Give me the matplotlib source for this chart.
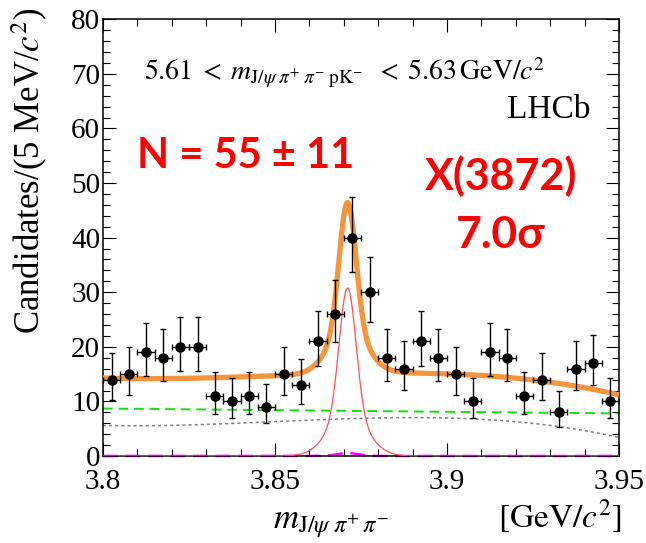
import numpy as np
import matplotlib
matplotlib.use("Agg")
import matplotlib.pyplot as plt
from matplotlib.ticker import MultipleLocator

# binned data: J/psi pi+ pi- mass, 5 MeV bins
bin_centers = [3.8025, 3.8075, 3.8125, 3.8175, 3.8225, 3.8275, 3.8325, 3.8375, 3.8425, 3.8475,
               3.8525, 3.8575, 3.8625, 3.8675, 3.8725, 3.8775, 3.8825, 3.8875, 3.8925, 3.8975,
               3.9025, 3.9075, 3.9125, 3.9175, 3.9225, 3.9275, 3.9325, 3.9375, 3.9425, 3.9475]
counts = [14, 15, 19, 18, 20, 20, 11, 10, 11, 9,
          15, 13, 21, 26, 40, 30, 18, 16, 21, 18,
          15, 10, 19, 18, 11, 14, 8, 16, 17, 10]
bin_half_width = 0.0025

# fit components (parameters)
sig_mean = 3.8711
sig_amp = 30.8
sig_sigma_core = 0.0024
sig_sigma_wide = 0.0055
sig_frac_wide = 0.25
peak2_amp = 0.55
peak2_sigma = 0.003
lin_bkg_ends = [8.7, 7.8]               # green dashed, at 3.80 and 3.95
smooth_bkg_coeffs = [6.9, 1.263, -2.4, -2.363]  # grey dotted, cubic in t=(m-3.875)/0.075

x_range = (3.8, 3.95)

plt.rcParams.update({
    "font.family": ["Liberation Serif", "DejaVu Serif"],
    "mathtext.fontset": "stix",
    "axes.linewidth": 1.1,
})

fig = plt.figure(figsize=(6.46, 5.43), dpi=100)
ax = fig.add_axes([0.1594, 0.1602, 0.7988, 0.8043])

m = np.linspace(x_range[0], x_range[1], 800)
t = (m - 3.875) / 0.075
signal = sig_amp * ((1 - sig_frac_wide) * np.exp(-0.5 * ((m - sig_mean) / sig_sigma_core) ** 2)
                    + sig_frac_wide * np.exp(-0.5 * ((m - sig_mean) / sig_sigma_wide) ** 2))
peak2 = peak2_amp * np.exp(-0.5 * ((m - sig_mean) / peak2_sigma) ** 2)
lin_bkg = lin_bkg_ends[0] + (lin_bkg_ends[1] - lin_bkg_ends[0]) * (m - x_range[0]) / (x_range[1] - x_range[0])
smooth_bkg = sum(c * t ** i for i, c in enumerate(smooth_bkg_coeffs))
total = signal + peak2 + lin_bkg + smooth_bkg

ax.plot(m, peak2, color="#ff00ff", lw=1.8, ls=(0, (6, 3)), zorder=2, clip_on=False)
ax.plot(m, smooth_bkg, color="#808080", lw=1.1, ls=(0, (2, 2)), zorder=2)
ax.plot(m, lin_bkg, color="#11e011", lw=1.4, ls=(0, (5, 3)), zorder=2)
ax.plot(m, signal, color="#ff5050", lw=0.9, zorder=3)
ax.plot(m, total, color="#f7953d", lw=3.8, zorder=4, solid_capstyle="butt")

# Poisson (Garwood-like) asymmetric errors
n = np.asarray(counts, dtype=float)
hi = (n + 1) * (1 - 1 / (9 * (n + 1)) + 1 / (3 * np.sqrt(n + 1))) ** 3 - n
lo = n - n * (1 - 1 / (9 * n) - 1 / (3 * np.sqrt(n))) ** 3
ax.errorbar(bin_centers, counts, xerr=bin_half_width, yerr=[lo, hi], fmt="o", color="black",
            ms=6.5, elinewidth=1.0, capsize=2.5, capthick=1.0, zorder=5)

ax.set_xlim(*x_range)
ax.set_ylim(0, 80)
ax.xaxis.set_minor_locator(MultipleLocator(0.01))
ax.yaxis.set_major_locator(MultipleLocator(10))
ax.yaxis.set_minor_locator(MultipleLocator(2))
ax.set_xticks([3.8, 3.85, 3.9, 3.95])
ax.set_xticklabels(["3.8", "3.85", "3.9", "3.95"])
ax.tick_params(which="both", direction="in", top=True, right=True, width=0.8, labelsize=21)
ax.tick_params(which="major", length=9.5)
ax.tick_params(which="minor", length=5)
ax.tick_params(axis="x", pad=9)
ax.tick_params(axis="y", pad=2)

fig.text(0.513, 0.028, r"$m_{\mathrm{J/}\psi\;\pi^{+}\,\pi^{-}}$", fontsize=25, ha="center", va="baseline")
fig.text(0.962, 0.028, r"$[\mathrm{GeV}/c^{2}]$", fontsize=24, ha="right", va="baseline")
fig.text(0.047, 0.985, r"Candidates/(5 MeV/$c^{2}$)", fontsize=25, rotation=90, ha="center", va="top")

ax.text(0.0795, 0.861,
        r"$5.61 \;<\; m_{\mathrm{J/}\psi\;\pi^{+}\;\pi^{-}\;\mathrm{p}\mathrm{K}^{-}} \;\;<\; 5.63\,\mathrm{GeV}/c^{2}$",
        transform=ax.transAxes, fontsize=20, ha="left", va="baseline")
ax.text(0.944, 0.774, "LHCb", transform=ax.transAxes, fontsize=24, ha="right", va="baseline")

red_font = ["Lato", "DejaVu Sans"]
ax.text(0.066, 0.659, "N = 55 \u00b1 11", transform=ax.transAxes, fontsize=30, color="red",
        fontweight="bold", family=red_font, ha="left", va="baseline")
ax.text(0.771, 0.609, "X(3872)", transform=ax.transAxes, fontsize=31, color="red",
        fontweight="bold", family=red_font, ha="center", va="baseline")
ax.text(0.771, 0.476, "7.0\u03c3", transform=ax.transAxes, fontsize=32, color="red",
        fontweight="bold", family=red_font, ha="center", va="baseline")

fig.savefig("out.png", dpi=100)
